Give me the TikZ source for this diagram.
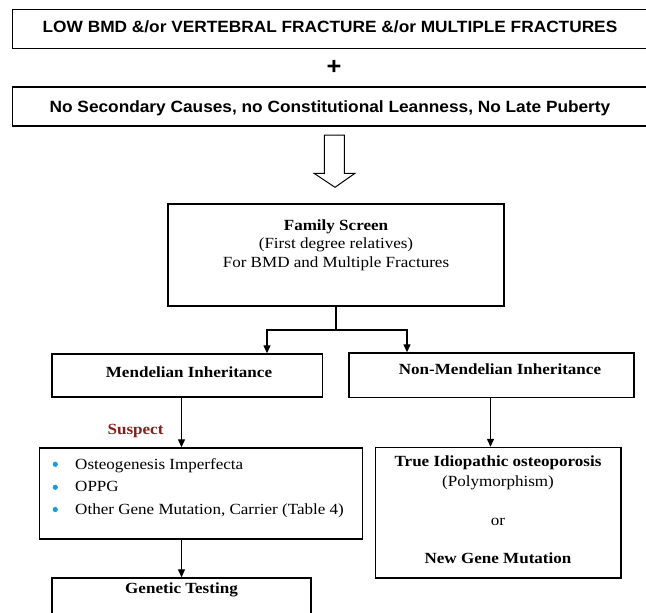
\documentclass[tikz,border=0pt]{standalone}
\usepackage{fontspec}
\setmainfont[FakeStretch=1.1]{Liberation Serif}
\newfontfamily\arialfont[FakeStretch=1.06]{Liberation Sans}
\usetikzlibrary{arrows.meta}
\definecolor{susred}{HTML}{8B1C1C}
\definecolor{bulblue}{HTML}{1E9BD7}
\tikzset{
 box/.style={draw, line width=1.4pt, inner sep=0pt},
 arr/.style={line width=1.3pt, -{Triangle[length=8pt,width=7pt]}},
 conn/.style={line width=1.3pt},
 sansbig/.style={font=\arialfont\bfseries\fontsize{16.3}{19}\selectfont, inner sep=0pt, anchor=base},
 ser/.style={font=\fontsize{15.5}{18.5}\selectfont, inner sep=0pt, anchor=base},
 serb/.style={font=\bfseries\fontsize{15.5}{18.5}\selectfont, inner sep=0pt, anchor=base},
 bulletdot/.style={fill=bulblue},
}
\begin{document}
\begin{tikzpicture}[x=1pt,y=-1pt]
\useasboundingbox (0,0) rectangle (646,613);
\clip (0,0) rectangle (646,613);
% boxes
\node[box, minimum width=637.3pt, minimum height=39pt] (top1) at (331.35,29) {};
\node[box, minimum width=637.3pt, minimum height=39pt] (top2) at (331.35,106.5) {};
\node[box, minimum width=336pt, minimum height=102pt] (fam) at (336,255) {};
\node[box, minimum width=270.5pt, minimum height=43pt] (mend) at (187.25,375.5) {};
\node[box, minimum width=285pt, minimum height=44.5pt] (non) at (491.5,375.25) {};
\node[box, minimum width=323pt, minimum height=91pt] (bul) at (201,493.5) {};
\node[box, minimum width=245.5pt, minimum height=130.5pt] (tru) at (498.25,512.75) {};
\node[box, minimum width=259pt, minimum height=62pt] (gen) at (181.5,609) {};
% texts
\node[sansbig] (t1) at (330,32.3) {LOW BMD \&/or VERTEBRAL FRACTURE \&/or MULTIPLE FRACTURES};
\node[font=\arialfont\bfseries\fontsize{24}{24}\selectfont, inner sep=0pt] (plus) at (334,67) {+};
\node[sansbig] (t2) at (330,112) {No Secondary Causes, no Constitutional Leanness, No Late Puberty};
\node[ser, align=center] (famt) at (336,267) {\textbf{Family Screen}\\(First degree relatives)\\For BMD and Multiple Fractures};
\node[serb] (mendt) at (189,377) {Mendelian Inheritance};
\node[serb] (nont) at (500,374) {Non-Mendelian Inheritance};
\node[serb, text=susred] (sus) at (135.5,434.5) {Suspect};
\node[font=\fontsize{15.5}{22.5}\selectfont, inner sep=0pt, anchor=base west, align=left] (bult) at (75,514)
 {Osteogenesis Imperfecta\\OPPG\\Other Gene Mutation, Carrier (Table 4)};
\fill[bulletdot] (55.3,464.3) circle (2.6pt);
\fill[bulletdot] (55.3,487.3) circle (2.6pt);
\fill[bulletdot] (55.3,509.5) circle (2.6pt);
\node[serb] (trt1) at (498,466) {True Idiopathic osteoporosis};
\node[ser] (trt2) at (498,486.5) {(Polymorphism)};
\node[ser] (trt3) at (498,525) {or};
\node[serb] (trt4) at (498,563.5) {New Gene Mutation};
\node[serb] (gent) at (181.5,593) {Genetic Testing};
% hollow arrow
\draw[line width=1pt] (324.3,135) -- (344.3,135) -- (344.3,173.3) -- (355,173.3) -- (335,187.3) -- (314,173.3) -- (324.3,173.3) -- cycle;
% connectors
\coordinate (split) at (336,330);
\coordinate (lx) at (267,0);
\coordinate (rx) at (407,0);
\coordinate (mx) at (181.5,0);
\coordinate (nx) at (490.5,0);
\draw[conn] (fam.south) -- (split);
\draw[arr] (split) -| (mend.north -| lx);
\draw[arr] (split) -| (non.north -| rx);
\draw[arr] (mend.south -| mx) -- (bul.north -| mx);
\draw[arr] (non.south -| nx) -- (tru.north -| nx);
\draw[arr] (bul.south -| mx) -- (gen.north -| mx);
\end{tikzpicture}
\end{document}
